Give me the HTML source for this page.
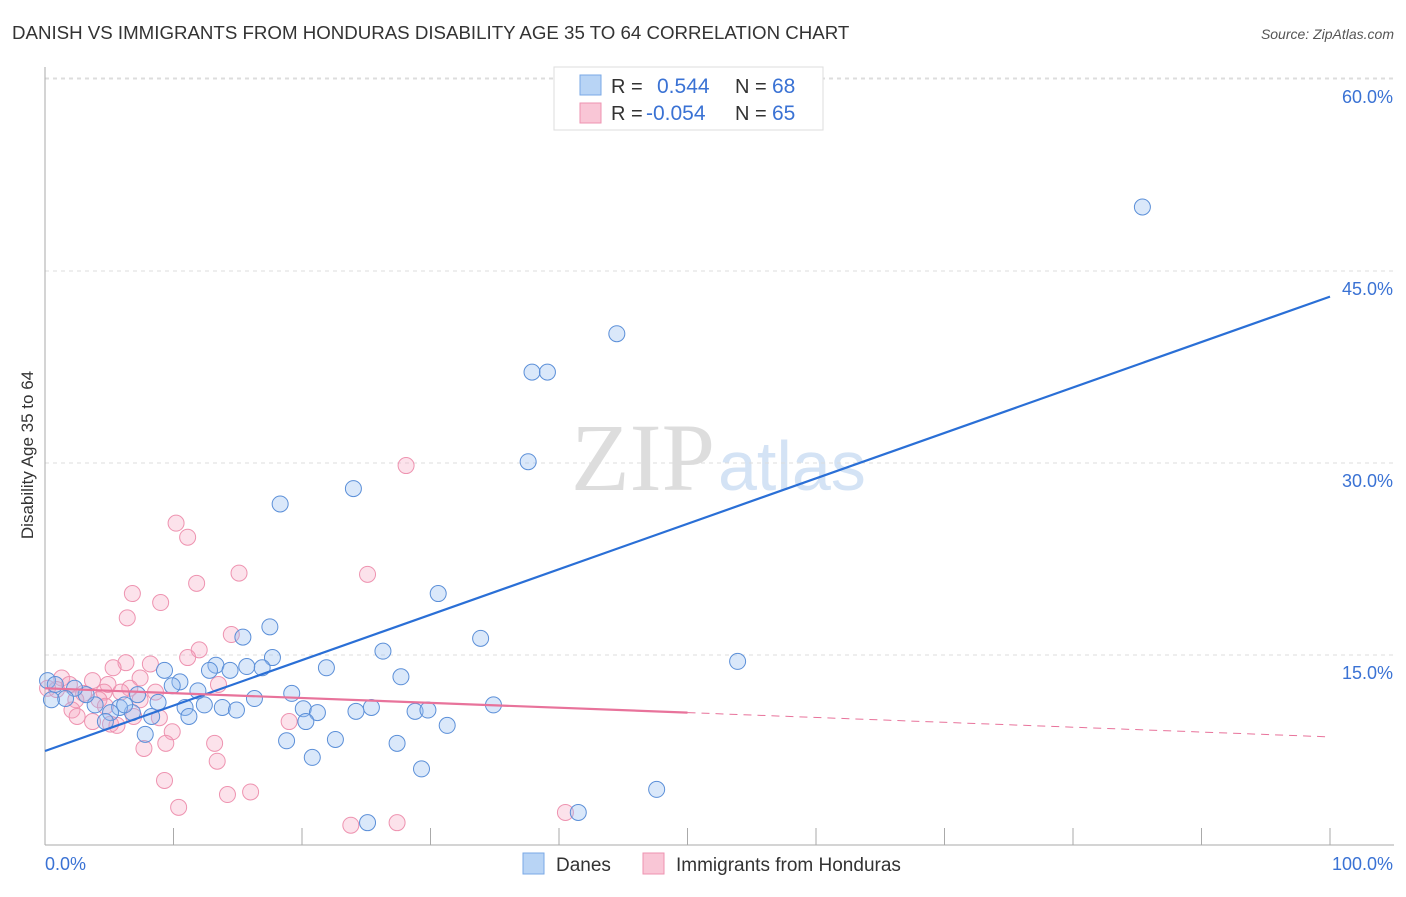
<!DOCTYPE html>
<html><head><meta charset="utf-8"><style>
body{margin:0;background:#fff;font-family:"Liberation Sans",sans-serif}
svg text{font-family:"Liberation Sans",sans-serif}
</style></head><body>
<svg id="chart" width="1406" height="892" xmlns="http://www.w3.org/2000/svg">
<text x="12" y="39" font-size="18.7" fill="#333">DANISH VS IMMIGRANTS FROM HONDURAS DISABILITY AGE 35 TO 64 CORRELATION CHART</text>
<text x="1394" y="39" font-size="14" fill="#555" text-anchor="end" font-style="italic">Source: ZipAtlas.com</text>
<text x="715" y="490" font-size="96" text-anchor="end" fill="#ddd" style="font-family:'Liberation Serif',serif">ZIP</text>
<text x="718" y="490" font-size="70" fill="#d4e3f5">atlas</text>
<g id="grid"></g>
<g id="axes"></g>
<g id="pts"></g>
<g id="trends"></g>
<text transform="translate(33,455) rotate(-90)" font-size="17" fill="#333" text-anchor="middle">Disability Age 35 to 64</text>
<g>
<rect x="554" y="67" width="269" height="63" fill="#fff" stroke="#ddd"/>
<rect x="580" y="75" width="21" height="20" fill="#b8d4f5" stroke="#7aa8e6"/>
<rect x="580" y="103" width="21" height="20" fill="#f9c6d6" stroke="#ee93b0"/>
<text x="611" y="93" font-size="20" fill="#333">R =</text>
<text x="657" y="93" font-size="21" fill="#3a72d4">0.544</text>
<text x="735" y="93" font-size="20" fill="#333">N =</text>
<text x="772" y="93" font-size="21" fill="#3a72d4">68</text>
<text x="611" y="120" font-size="20" fill="#333">R =</text>
<text x="646" y="120" font-size="21" fill="#3a72d4">-0.054</text>
<text x="735" y="120" font-size="20" fill="#333">N =</text>
<text x="772" y="120" font-size="21" fill="#3a72d4">65</text>
</g>
<g>
<rect x="523" y="853" width="21" height="21" fill="#b8d4f5" stroke="#7aa8e6"/>
<text x="556" y="871" font-size="19" fill="#333">Danes</text>
<rect x="643" y="853" width="21" height="21" fill="#f9c6d6" stroke="#ee93b0"/>
<text x="676" y="871" font-size="19" fill="#333">Immigrants from Honduras</text>
</g>
</svg>
<script>
const yTicks=[15,30,45,60];
const yTickLabels=["15.0%","30.0%","45.0%","60.0%"];
const danesX=[85.4,44.5,37.9,39.1,37.6,24.0,18.3,30.6,17.5,33.9,15.4,26.3,53.9,17.7,21.9,16.9,15.7,13.3,14.4,12.8,9.3,27.7,10.5,9.9,11.9,19.2,7.2,16.3,8.8,12.4,13.8,14.9,10.9,20.1,25.4,24.2,21.2,28.8,29.8,34.9,11.2,20.3,31.3,8.3,6.8,5.8,6.2,5.1,4.7,3.9,3.2,2.3,1.6,0.5,0.2,0.8,7.8,18.8,22.6,27.4,20.8,29.3,47.6,41.5,25.1,45.8];
const danesY=[50.0,40.1,37.1,37.1,30.1,28.0,26.8,19.8,17.2,16.3,16.4,15.3,14.5,14.8,14.0,14.0,14.1,14.2,13.8,13.8,13.8,13.3,12.9,12.6,12.2,12.0,11.9,11.6,11.3,11.1,10.9,10.7,10.9,10.8,10.9,10.6,10.5,10.6,10.7,11.1,10.2,9.8,9.5,10.2,10.5,10.9,11.1,10.5,9.8,11.1,11.9,12.4,11.6,11.5,13.0,12.7,8.8,8.3,8.4,8.1,7.0,6.1,4.5,2.7,1.9,58.0];
const hondX=[28.1,10.2,11.1,15.1,25.1,11.8,6.8,9.0,6.4,14.5,12.0,11.1,6.3,8.2,5.3,7.4,3.7,1.3,1.9,4.9,6.6,8.6,4.6,5.9,3.0,0.9,0.2,13.5,4.2,7.4,2.4,4.7,2.1,2.5,3.7,6.9,8.9,19.0,5.1,5.6,9.9,7.7,9.4,13.2,13.4,9.3,14.2,16.0,10.4,23.8,27.4,40.5];
const hondY=[29.8,25.3,24.2,21.4,21.3,20.6,19.8,19.1,17.9,16.6,15.4,14.8,14.4,14.3,14.0,13.2,13.0,13.2,12.7,12.7,12.4,12.1,12.1,12.1,12.0,12.3,12.4,12.7,11.5,11.5,11.5,11.0,10.7,10.2,9.8,10.2,10.1,9.8,9.6,9.5,9.0,7.7,8.1,8.1,6.7,5.2,4.1,4.3,3.1,1.7,1.9,2.7];
const danesTrend=[7.5,43.0];
const hondTrendStart=[0,12.4], hondTrendEnd=[50,10.5], hondTrendFar=[100,8.6];
const X=v=>45+v*12.85, Y=v=>847-v*12.8;
const NS="http://www.w3.org/2000/svg";
function mk(t,a,p){const e=document.createElementNS(NS,t);for(const k in a)e.setAttribute(k,a[k]);document.getElementById(p).appendChild(e);return e;}
yTicks.forEach((t,i)=>{
 const l=mk('line',{x1:45,x2:1394,y1:Y(t),y2:Y(t),stroke:'#ddd','stroke-dasharray':'4,4'},'grid');
 
 
 const tx=mk('text',{x:1393,y:Y(t)+24,'font-size':18,fill:'#3a72d4','text-anchor':'end'},'grid');
 tx.textContent=yTickLabels[i];
 
 
});
const topGrid=mk('line',{x1:45,x2:1394,y1:78,y2:78,stroke:'#ddd','stroke-dasharray':'4,4'},'grid');


const ax=mk('line',{x1:45,x2:1394,y1:845,y2:845,stroke:'#aaa'},'axes');


const ay=mk('line',{x1:45,x2:45,y1:67,y2:845,stroke:'#aaa'},'axes');


for(let i=1;i<=10;i++){const t=mk('line',{x1:X(i*10),x2:X(i*10),y1:828,y2:845,stroke:'#aaa'},'axes');
 
 }
const xl0=mk('text',{x:45,y:870,'font-size':18,fill:'#3a72d4'},'axes');xl0.textContent='0.0%';


const xl1=mk('text',{x:1393,y:870,'font-size':18,fill:'#3a72d4','text-anchor':'end'},'axes');xl1.textContent='100.0%';


hondX.forEach((v,i)=>{const c=mk('circle',{cx:X(v),cy:Y(hondY[i]),r:8,fill:'rgba(245,160,190,0.3)',stroke:'#ee93b0','stroke-width':1},'pts');
 
 });
danesX.forEach((v,i)=>{const c=mk('circle',{cx:X(v),cy:Y(danesY[i]),r:8,fill:'rgba(150,190,240,0.35)',stroke:'#5b8fd8','stroke-width':1},'pts');
 
 });
const bt=mk('line',{x1:X(0),y1:Y(danesTrend[0]),x2:X(100),y2:Y(danesTrend[1]),stroke:'#2a6fd6','stroke-width':2.2},'trends');


const pt=mk('line',{x1:X(hondTrendStart[0]),y1:Y(hondTrendStart[1]),x2:X(hondTrendEnd[0]),y2:Y(hondTrendEnd[1]),stroke:'#e8739b','stroke-width':2.2},'trends');


const pd=mk('line',{x1:X(hondTrendEnd[0]),y1:Y(hondTrendEnd[1]),x2:X(hondTrendFar[0]),y2:Y(hondTrendFar[1]),stroke:'#e8739b','stroke-width':1,'stroke-dasharray':'8,6'},'trends');


</script>
</body></html>
